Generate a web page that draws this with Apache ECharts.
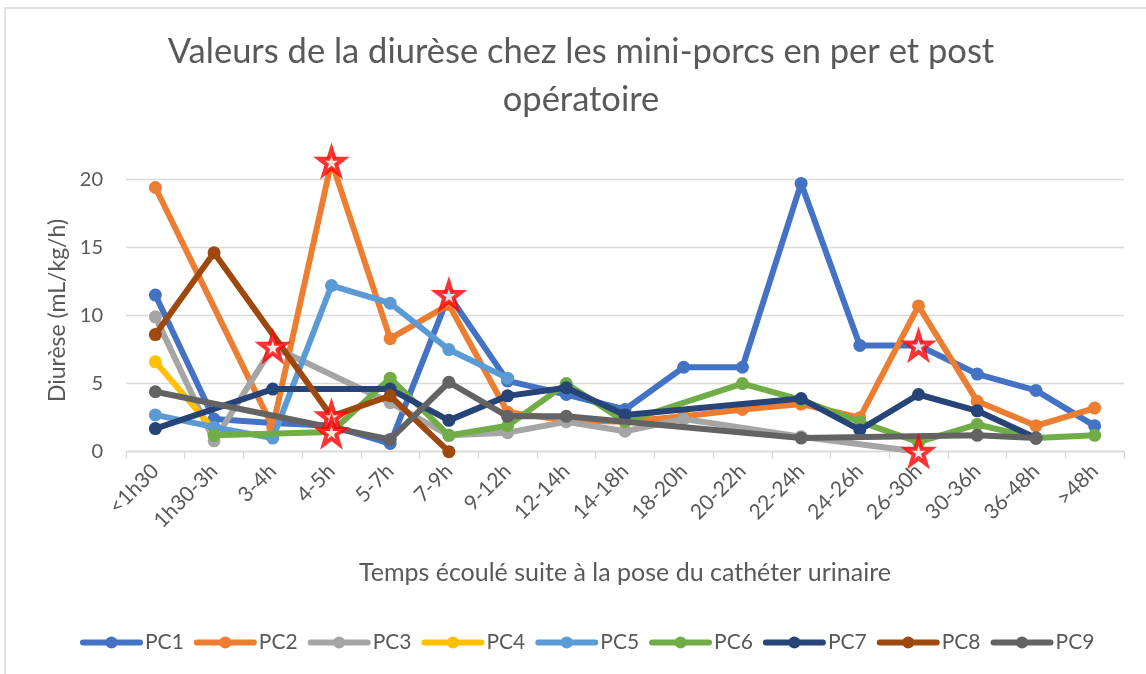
<!DOCTYPE html>
<html>
<head>
<meta charset="utf-8">
<script src="https://cdn.jsdelivr.net/npm/echarts@6/dist/echarts.min.js"></script>
<style>
  html, body { margin: 0; padding: 0; background: #ffffff; }
  #chart { width: 1146px; height: 674px; }
</style>
</head>
<body>
<div id="chart"></div>
<script>
// Time bins after urinary catheter placement
const categories = ['<1h30', '1h30-3h', '3-4h', '4-5h', '5-7h', '7-9h', '9-12h', '12-14h', '14-18h',
  '18-20h', '20-22h', '22-24h', '24-26h', '26-30h', '30-36h', '36-48h', '>48h'];

// Urine output (mL/kg/h) per mini-pig; null = no measurement in that bin
const PC1 = [11.5, 2.4, 2.1, 1.9, 0.6, 11.5, 5.2, 4.2, 3.1, 6.2, 6.2, 19.7, 7.8, 7.8, 5.7, 4.5, 1.9];
const PC2 = [19.4, null, 1.8, 21.3, 8.3, 10.8, 2.9, 2.3, 2.2, 2.6, 3.1, 3.5, 2.5, 10.7, 3.7, 1.9, 3.2];
const PC3 = [9.9, 0.8, 7.7, null, 3.6, 1.2, 1.4, 2.2, 1.5, 2.4, null, 1.1, null, 0, null, null, null];
const PC4 = [6.6, 1.6, null, null, null, null, null, null, null, null, null, null, null, null, null, null, null];
const PC5 = [2.7, 1.8, 1.0, 12.2, 10.9, 7.5, 5.4, null, null, null, null, null, null, null, null, null, null];
const PC6 = [null, 1.2, null, 1.45, 5.4, 1.2, 1.9, 5.0, 2.2, null, 5.0, 3.8, 2.2, 0.7, 2.0, 1.0, 1.2];
const PC7 = [1.7, null, 4.6, null, 4.6, 2.3, 4.1, 4.7, 2.7, null, null, 3.9, 1.6, 4.2, 3.0, 1.0, null];
const PC8 = [8.6, 14.6, null, 2.6, 4.1, 0, null, null, null, null, null, null, null, null, null, null, null];
const PC9 = [4.4, null, null, null, 0.9, 5.1, 2.6, 2.6, null, null, null, 1.0, null, null, 1.2, 1.0, null];

const seriesNames = ['PC1', 'PC2', 'PC3', 'PC4', 'PC5', 'PC6', 'PC7', 'PC8', 'PC9'];
const seriesValues = [PC1, PC2, PC3, PC4, PC5, PC6, PC7, PC8, PC9];

// Flagged measurements: [series name, time bin index]
const flagged = [['PC2', 3], ['PC3', 2], ['PC8', 3], ['PC6', 3], ['PC1', 5], ['PC1', 13], ['PC3', 13]];

// Y ticks
const yTicks = [0, 5, 10, 15, 20];

const palette = ['#4472C4', '#ED7D31', '#A5A5A5', '#FFC000', '#5B9BD5', '#70AD47', '#264478', '#9E480E', '#636363'];
const STAR = 'path://M50,0 L61.8,35.4 L99,35.4 L69,57.3 L80.3,92.7 L50,70.8 L19.7,92.7 L31,57.3 L1,35.4 L38.2,35.4 Z';
const FONT = 'Lato';
const TXT = '#595959';

const lineSeries = seriesNames.map((name, i) => ({
  name: name,
  type: 'line',
  data: seriesValues[i],
  connectNulls: true,
  symbol: 'circle',
  symbolSize: 13,
  clip: false,
  lineStyle: { width: 6, color: palette[i], cap: 'round', join: 'round' },
  itemStyle: { color: palette[i] },
  emphasis: { disabled: true },
  z: 2 + i * 0.01
}));

const starSeries = {
  name: 'flag',
  type: 'scatter',
  data: flagged.map(([n, idx]) => [idx, seriesValues[seriesNames.indexOf(n)][idx]]),
  symbol: STAR,
  symbolSize: 25,
  clip: false,
  itemStyle: { color: '#ffffff', borderColor: '#FF0000', borderWidth: 4 },
  emphasis: { disabled: true },
  z: 5
};

const chart = echarts.init(document.getElementById('chart'), null, { renderer: 'canvas' });
chart.setOption({
  animation: false,
  backgroundColor: '#ffffff',
  textStyle: { fontFamily: FONT },
  title: {
    text: 'Valeurs de la diurèse chez les mini-porcs en per et post\nopératoire',
    left: 576,
    top: 23,
    textAlign: 'center',
    textStyle: { fontFamily: FONT, fontSize: 34.5, fontWeight: 'normal', color: TXT, lineHeight: 48 }
  },
  legend: {
    data: seriesNames,
    left: 75,
    top: 627,
    itemWidth: 57,
    itemHeight: 15,
    itemGap: 10,
    lineStyle: { width: 6 },
    textStyle: { fontFamily: FONT, fontSize: 21, color: TXT }
  },
  graphic: [{
    type: 'rect',
    shape: { x: 5, y: 8, width: 1200, height: 700 },
    style: { fill: 'none', stroke: '#D9D9D9', lineWidth: 1.5 },
    silent: true,
    z: -10
  }],
  grid: { left: 126, right: 22, top: 179.3, bottom: 222.3 },
  xAxis: {
    type: 'category',
    data: categories,
    boundaryGap: true,
    name: 'Temps écoulé suite à la pose du cathéter urinaire',
    nameLocation: 'middle',
    nameGap: 109,
    nameTextStyle: { fontFamily: FONT, fontSize: 25, color: TXT },
    axisLine: { show: true, lineStyle: { color: '#D9D9D9', width: 1.3 } },
    axisTick: { show: true, length: 7, lineStyle: { color: '#D9D9D9', width: 1.3 } },
    axisLabel: { rotate: 45, fontFamily: FONT, fontSize: 21, color: TXT, margin: 16, interval: 0 },
    splitLine: { show: false }
  },
  yAxis: {
    type: 'value',
    min: yTicks[0],
    max: yTicks[yTicks.length - 1],
    interval: yTicks[1] - yTicks[0],
    name: 'Diurèse (mL/kg/h)',
    nameLocation: 'middle',
    nameGap: 56,
    nameTextStyle: { fontFamily: FONT, fontSize: 23, color: TXT, padding: [0, 0, 0, 10] },
    axisLine: { show: false },
    axisTick: { show: false },
    axisLabel: { fontFamily: FONT, fontSize: 20, color: TXT, margin: 23 },
    splitLine: { lineStyle: { color: '#D9D9D9', width: 1.3 } }
  },
  series: lineSeries.concat([starSeries])
});
</script>
</body>
</html>
